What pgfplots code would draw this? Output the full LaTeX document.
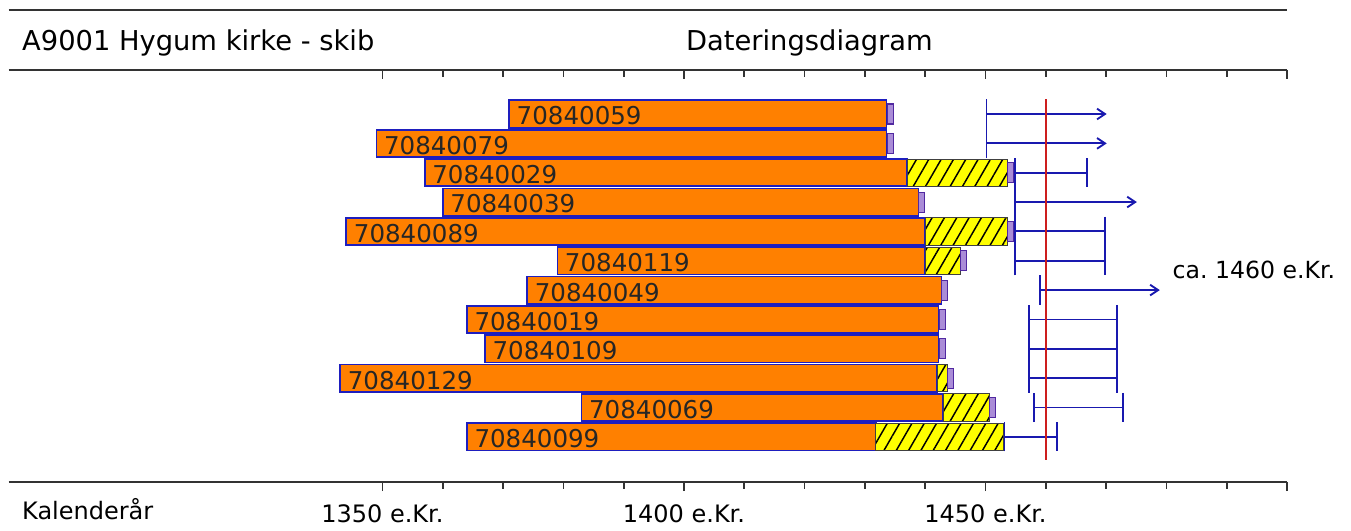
\documentclass[border=0pt]{standalone}
\usepackage{fontspec}
\setmainfont{DejaVu Sans}
\usepackage{pgfplots}
\pgfplotsset{compat=1.18}
\usepackage{pgfplotstable}
\usetikzlibrary{arrows.meta,patterns.meta}
\frenchspacing

\definecolor{barorange}{RGB}{255,128,0}
\definecolor{baredge}{RGB}{30,30,190}
\definecolor{sapyellow}{RGB}{255,255,0}
\definecolor{fellblue}{RGB}{25,25,175}
\definecolor{refred}{RGB}{205,30,30}
\definecolor{wanedraw}{RGB}{80,40,160}
\definecolor{wanefill}{RGB}{170,140,215}

% y = row position counted from the bottom (12 = top row)
\pgfplotstableread{
y  id        start heart
12 70840059  1371  1433.6
11 70840079  1349  1433.6
10 70840029  1357  1437.0
9  70840039  1360  1438.9
8  70840089  1344  1440.0
7  70840119  1379  1440.0
6  70840049  1374  1442.7
5  70840019  1364  1442.2
4  70840109  1367  1442.2
3  70840129  1343  1442.0
2  70840069  1383  1443.0
1  70840099  1364  1431.8
}\samples

% sapwood estimates (only the series that have one)
\pgfplotstableread{
y  heart  sap
10 1437.0 1453.6
8  1440.0 1453.6
7  1440.0 1445.8
3  1442.0 1443.7
2  1443.0 1450.7
1  1431.8 1453.0
}\sapwood

% end-of-series markers
\pgfplotstableread{
x      y
1434.2 12
1434.2 11
1454.2 10
1439.4 9
1454.2 8
1446.3 7
1443.2 6
1442.9 5
1442.9 4
1444.2 3
1451.2 2
}\wane

\pgfdeclareplotmark{wane}{%
  \pgfpathrectangle{\pgfpoint{-2.25pt}{-7.5pt}}{\pgfpoint{4.5pt}{15pt}}%
  \pgfusepathqfillstroke}

\pgfplotsset{
  dateaxis/.style={
    scale only axis, width=958.8pt, height=308.9pt,
    xmin=1288, xmax=1500, ymin=-0.534, ymax=13.5,
    axis y line=none, ytick=\empty,
    xtick={1350,1400,1450,1500},
    minor xtick={1360,1370,...,1490},
    axis line style={line width=1.5pt, black!80},
    every tick/.style={black!80, line width=1.3pt},
    major tick length=7pt, minor tick length=5pt,
  },
  closedint/.style={fellblue, line width=1.4pt,
    arrows={Bar[width=22pt]-Bar[width=22pt]}},
  openint/.style={fellblue, line width=1.4pt,
    arrows={Bar[width=22pt]-Straight Barb[length=6pt,width=8pt]}},
}

\newcommand\headfont{\fontsize{20.5}{24}\selectfont}
\newcommand\footfont{\fontsize{18}{21}\selectfont}

\begin{document}
\begin{tikzpicture}
\useasboundingbox (-6.48pt,-36.75pt) rectangle (1006.8pt,361.4pt);

% heartwood bars
\begin{axis}[dateaxis,
  axis x line*=bottom, tick align=outside,
  xticklabels={1350 e.Kr.,1400 e.Kr.,1450 e.Kr.,},
  xticklabel style={font=\footfont, text=black, inner sep=0pt, yshift=-10pt},
  xbar stacked, bar width=0.93,
]
\addplot[draw=none, fill=none] table[x=start, y=y] {\samples};
\addplot[fill=barorange, draw=baredge, line width=1.3pt]
  table[x expr=\thisrow{heart}-\thisrow{start}, y=y] {\samples};
\end{axis}

% sapwood bars
\begin{axis}[dateaxis, hide axis, xbar stacked, bar width=0.93]
\addplot[draw=none, fill=none] table[x=heart, y=y] {\sapwood};
\addplot[fill=sapyellow, draw=black!75, line width=0.8pt,
  postaction={pattern={Lines[angle=60,distance=8pt,line width=1.1pt]}, pattern color=black}]
  table[x expr=\thisrow{sap}-\thisrow{heart}, y=y] {\sapwood};
\end{axis}

% labels, markers, felling intervals
\begin{axis}[dateaxis,
  axis x line*=top, tick align=inside, xticklabels={}, clip=false,
]
\addplot[only marks, mark=wane,
  mark options={draw=wanedraw, fill=wanefill, line width=0.8pt}]
  table[x=x, y=y] {\wane};

\addplot[draw=none, nodes near coords, point meta=explicit symbolic,
  nodes near coords style={anchor=west, inner sep=0pt, xshift=5.5pt, yshift=-1.5pt,
    text=black!85, font=\fontsize{18.4}{20}\selectfont}]
  table[x=start, y=y, meta=id] {\samples};

\addplot[openint]   coordinates {(1450.0,12) (1470.1,12)};
\addplot[openint]   coordinates {(1450.0,11) (1470.1,11)};
\addplot[closedint] coordinates {(1454.8,10) (1467.0,10)};
\addplot[openint]   coordinates {(1454.8,9)  (1475.1,9)};
\addplot[closedint] coordinates {(1454.8,8)  (1470.0,8)};
\addplot[closedint] coordinates {(1454.8,7)  (1470.0,7)};
\addplot[openint]   coordinates {(1458.9,6)  (1478.9,6)};
\addplot[closedint] coordinates {(1457.0,5)  (1472.0,5)};
\addplot[closedint] coordinates {(1457.0,4)  (1472.0,4)};
\addplot[closedint] coordinates {(1457.0,3)  (1472.0,3)};
\addplot[closedint] coordinates {(1457.9,2)  (1473.0,2)};
\addplot[closedint] coordinates {(1453.0,1)  (1462.0,1)};

\addplot[refred, line width=1.1pt] coordinates {(1460,0.215) (1460,12.51)};

\draw[black!80, line width=1.5pt] (axis cs:1288,15.54) -- (axis cs:1500,15.54);
\node[anchor=base west, inner sep=0pt, font=\headfont] at (axis cs:1290.2,14.18) {A9001 Hygum kirke - skib};
\node[anchor=base west, inner sep=0pt, font=\headfont] at (axis cs:1400.3,14.18) {Dateringsdiagram};
\node[anchor=base west, inner sep=0pt, font=\footfont] at (axis cs:1290.2,-1.83) {Kalenderår};
\node[anchor=west, inner sep=0pt, font=\fontsize{17.7}{20}\selectfont] at (axis cs:1481,6.69) {ca. 1460 e.Kr.};
\end{axis}
\end{tikzpicture}
\end{document}
